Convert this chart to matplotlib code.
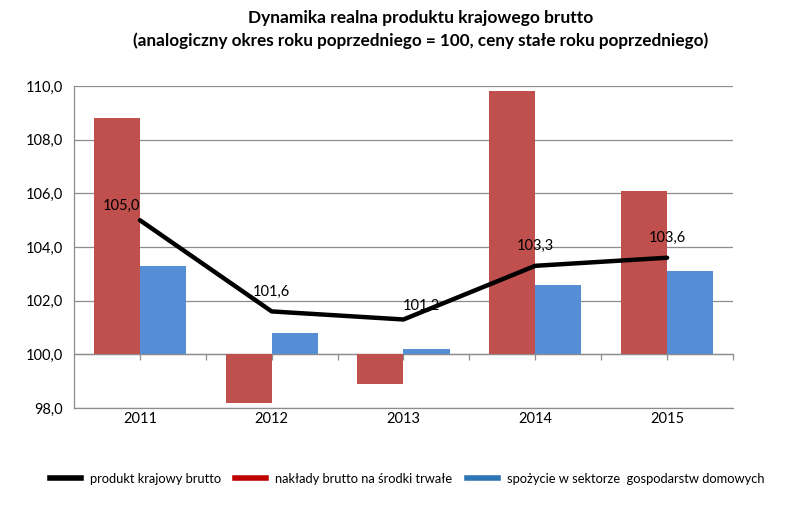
import numpy as np
import matplotlib.pyplot as plt
from matplotlib.lines import Line2D
from matplotlib.ticker import FuncFormatter

plt.rcParams["font.family"] = ["Lato", "DejaVu Sans"]

# dane
years = ["2011", "2012", "2013", "2014", "2015"]
pkb = [105.0, 101.6, 101.3, 103.3, 103.6]
naklady = [108.8, 98.2, 98.9, 109.8, 106.1]
spozycie = [103.3, 100.8, 100.2, 102.6, 103.1]
pkb_labels = ["105,0", "101,6", "101,2", "103,3", "103,6"]

names = ["produkt krajowy brutto",
         "nakłady brutto na środki trwałe",
         "spożycie w sektorze  gospodarstw domowych"]

base = 100.0
x = np.arange(len(years))
w = 0.35

fig = plt.figure(figsize=(8.06, 5.31), dpi=100)
ax = fig.add_axes([0.0918, 0.2316, 0.8176, 0.6064])

ax.bar(x - w / 2, np.array(naklady) - base, bottom=base, width=w,
       color="#C0504D", zorder=2)
ax.bar(x + w / 2, np.array(spozycie) - base, bottom=base, width=w,
       color="#558ED5", zorder=2)
ax.plot(x, pkb, color="black", linewidth=3.2, zorder=4,
        solid_capstyle="round", solid_joinstyle="round")

# etykiety wartości PKB (przesunięcia jak w oryginale)
offsets = [(-13, 10), (0, 14), (13, 10), (0, 14), (0, 14)]
for xi, yi, lab, off in zip(x, pkb, pkb_labels, offsets):
    ax.annotate(lab, (xi, yi), xytext=off, textcoords="offset points",
                ha="center", va="center", fontsize=10.5, zorder=5)

ax.set_xlim(-0.5, len(years) - 0.5)
ax.set_ylim(98, 110)
ax.set_yticks(np.arange(98, 110.1, 2))
ax.yaxis.set_major_formatter(FuncFormatter(lambda v, p: f"{v:.1f}".replace(".", ",")))
ax.tick_params(axis="y", length=0, labelsize=10.5, pad=8)
ax.grid(axis="y", color="#8C8C8C", linewidth=0.9, zorder=0)

ax.set_xticks(x)
ax.set_xticklabels(years)
ax.tick_params(axis="x", length=0, labelsize=10.5, pad=3)

for s in ["top", "right"]:
    ax.spines[s].set_visible(False)
for s in ["left", "bottom"]:
    ax.spines[s].set_color("#8C8C8C")
    ax.spines[s].set_linewidth(0.9)

# oś kategorii przy 100
sec = ax.secondary_xaxis((base - 98) / 12)
sec.set_xticks(np.concatenate([x, x[1:] - 0.5, [x[-1] + 0.5]]))
sec.set_xticklabels([])
sec.tick_params(length=4, width=0.9, color="#8C8C8C", direction="out")
sec.spines["bottom"].set_color("#8C8C8C")
sec.spines["bottom"].set_linewidth(0.9)
sec.spines["bottom"].set_zorder(3)

fig.text(0.522, 0.967, "Dynamika realna produktu krajowego brutto",
         ha="center", va="center", fontsize=12.5, fontweight="bold")
fig.text(0.522, 0.924, "(analogiczny okres roku poprzedniego = 100, ceny stałe roku poprzedniego)",
         ha="center", va="center", fontsize=12.3, fontweight="bold")

handles = [Line2D([], [], color="black", linewidth=4),
           Line2D([], [], color="#C00000", linewidth=4),
           Line2D([], [], color="#2E75B6", linewidth=4)]
fig.legend(handles, names, loc="center", bbox_to_anchor=(0.505, 0.098), ncol=3,
           frameon=False, fontsize=9.3, handlelength=2.4, columnspacing=1.1,
           handletextpad=0.7)

fig.savefig("out.png", dpi=100)
